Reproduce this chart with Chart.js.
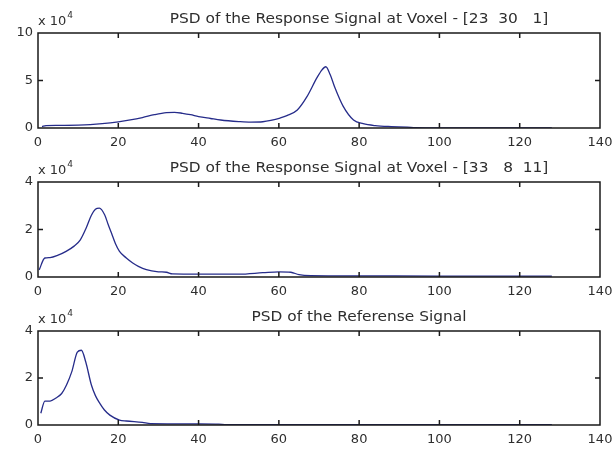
<!DOCTYPE HTML>
<html lang="en">
<head>
    <meta charset="utf-8" />
    <title>PSD</title>
    <script src="https://cdn.jsdelivr.net/npm/chart.js"></script>
    <style>
        body { margin: 0; background: #fff; width: 615px; height: 449px; position: relative; overflow: hidden; }
        canvas { position: absolute; left: 0; }
    </style>
</head>
<body>
    <canvas id="psd1" width="615" height="150" style="top:0px"></canvas>
    <canvas id="psd2" width="615" height="150" style="top:150px"></canvas>
    <canvas id="psd3" width="615" height="150" style="top:299px"></canvas>

    <script>
        // frequency axis (shared by all three panels)
        const freqTicks = [0, 20, 40, 60, 80, 100, 120, 140];

        // PSD of the response signal at voxel [23 30 1], in units of 1e4
        const freq1 = [1, 2, 5, 10, 13, 16, 20, 23, 26, 29, 32, 34, 36, 38, 40, 43, 45.5, 50, 53, 56, 58, 60.3, 62, 64.6, 67, 69.5, 70.7, 71.7, 72.8, 74, 76, 78.6, 81, 84, 88, 92, 94, 100, 110, 128];
        const psd1  = [0.15, 0.25, 0.28, 0.3, 0.35, 0.45, 0.65, 0.85, 1.1, 1.4, 1.62, 1.65, 1.55, 1.4, 1.2, 1.0, 0.84, 0.68, 0.62, 0.66, 0.8, 1.05, 1.3, 1.9, 3.3, 5.3, 6.1, 6.45, 5.6, 4.2, 2.3, 0.84, 0.45, 0.25, 0.15, 0.1, 0.04, 0.02, 0.02, 0.02];

        // PSD of the response signal at voxel [33 8 11], in units of 1e4
        const freq2 = [0.3, 1.7, 3, 5, 7, 9, 10.5, 12, 13.3, 14.3, 15.3, 16.6, 17.5, 18.3, 19.3, 20.3, 22, 23.6, 25, 27, 30, 32, 33.5, 40, 50, 56, 60, 63, 65, 68, 80, 100, 128];
        const psd2  = [0.3, 0.8, 0.82, 0.92, 1.08, 1.3, 1.55, 2.06, 2.6, 2.85, 2.9, 2.62, 2.2, 1.85, 1.4, 1.08, 0.8, 0.59, 0.45, 0.31, 0.22, 0.2, 0.13, 0.12, 0.12, 0.18, 0.22, 0.2, 0.1, 0.06, 0.05, 0.04, 0.04];

        // PSD of the reference signal, in units of 1e4
        const freq3 = [0.7, 1.7, 3, 4.5, 5.9, 7.1, 8.4, 9.8, 10.8, 11.9, 13.3, 14.3, 15.4, 16.5, 17.9, 20.3, 22, 26, 28, 40, 45, 47, 128];
        const psd3  = [0.5, 1.02, 1.02, 1.15, 1.34, 1.7, 2.26, 3.1, 3.18, 2.68, 1.7, 1.25, 0.92, 0.65, 0.42, 0.21, 0.17, 0.11, 0.06, 0.05, 0.04, 0.02, 0.02];

        const titles = [
            'PSD of the Response Signal at Voxel - [23  30   1]',
            'PSD of the Response Signal at Voxel - [33   8  11]',
            'PSD of the Referense Signal'
        ];
        const yMax = [10, 4, 4];
        const yStep = [5, 2, 2];

        const FAMILY = '"DejaVu Sans", sans-serif';
        const FONT = { family: FAMILY, size: 13 };
        const TEXT = '#2e2e2e';
        const AXIS = '#1a1a1a';

        // axes box, inward tick marks, title and the "x 10^4" exponent
        const matlabAxes = {
            id: 'matlabAxes',
            afterDraw(chart, args, opts) {
                const { ctx, chartArea: a } = chart;
                const x = chart.scales.x, y = chart.scales.y;
                ctx.save();
                ctx.strokeStyle = AXIS;
                ctx.lineWidth = 1.5;
                ctx.setLineDash([]);
                ctx.beginPath();
                ctx.rect(a.left, a.top, a.right - a.left, a.bottom - a.top);
                x.ticks.forEach(t => {
                    const px = x.getPixelForValue(t.value);
                    ctx.moveTo(px, a.bottom);
                    ctx.lineTo(px, a.bottom - 5);
                    ctx.moveTo(px, a.top);
                    ctx.lineTo(px, a.top + 5);
                });
                y.ticks.forEach(t => {
                    const py = y.getPixelForValue(t.value);
                    ctx.moveTo(a.left, py);
                    ctx.lineTo(a.left + 5, py);
                    ctx.moveTo(a.right, py);
                    ctx.lineTo(a.right - 5, py);
                });
                ctx.stroke();

                ctx.fillStyle = TEXT;
                ctx.textBaseline = 'alphabetic';
                ctx.textAlign = 'center';
                ctx.font = '14px ' + FAMILY;
                ctx.save();
                ctx.translate((a.left + a.right) / 2 + 40, a.top - 10);
                ctx.scale(1.1, 1);
                ctx.fillText(opts.title, 0, 0);
                ctx.restore();

                ctx.textAlign = 'left';
                ctx.font = '13px ' + FAMILY;
                ctx.fillText('x 10', a.left, a.top - 8);
                const w = ctx.measureText('x 10').width;
                ctx.font = '9px ' + FAMILY;
                ctx.fillText('4', a.left + w + 1, a.top - 15);
                ctx.restore();
            }
        };

        function makeChart(id, freq, psd, idx, padTop, xHeight) {
            const points = freq.map((f, i) => ({ x: f, y: psd[i] }));
            return new Chart(document.getElementById(id), {
                type: 'line',
                data: {
                    datasets: [{
                        data: points,
                        borderColor: '#262c8a',
                        borderWidth: 1.3,
                        pointRadius: 0,
                        cubicInterpolationMode: 'monotone',
                        fill: false
                    }]
                },
                options: {
                    responsive: false,
                    animation: false,
                    devicePixelRatio: 1,
                    layout: { padding: { top: padTop, right: 15, left: 0, bottom: 0 } },
                    plugins: {
                        legend: { display: false },
                        tooltip: { enabled: false },
                        matlabAxes: { title: titles[idx] }
                    },
                    scales: {
                        x: {
                            type: 'linear',
                            min: freqTicks[0],
                            max: freqTicks[freqTicks.length - 1],
                            afterBuildTicks: s => { s.ticks = freqTicks.map(v => ({ value: v })); },
                            ticks: { font: FONT, color: TEXT, padding: 7, maxRotation: 0 },
                            grid: { display: false, drawTicks: false },
                            border: { display: false },
                            afterFit: s => { s.height = xHeight; s.paddingLeft = 0; s.paddingRight = 0; }
                        },
                        y: {
                            min: 0,
                            max: yMax[idx],
                            ticks: { stepSize: yStep[idx], font: FONT, color: TEXT, padding: 5 },
                            grid: { display: false, drawTicks: false },
                            border: { display: false },
                            afterFit: s => { s.width = 38; }
                        }
                    }
                },
                plugins: [matlabAxes]
            });
        }

        makeChart('psd1', freq1, psd1, 0, 33, 22);
        makeChart('psd2', freq2, psd2, 1, 32, 23);
        makeChart('psd3', freq3, psd3, 2, 32, 24);
    </script>
</body>
</html>
